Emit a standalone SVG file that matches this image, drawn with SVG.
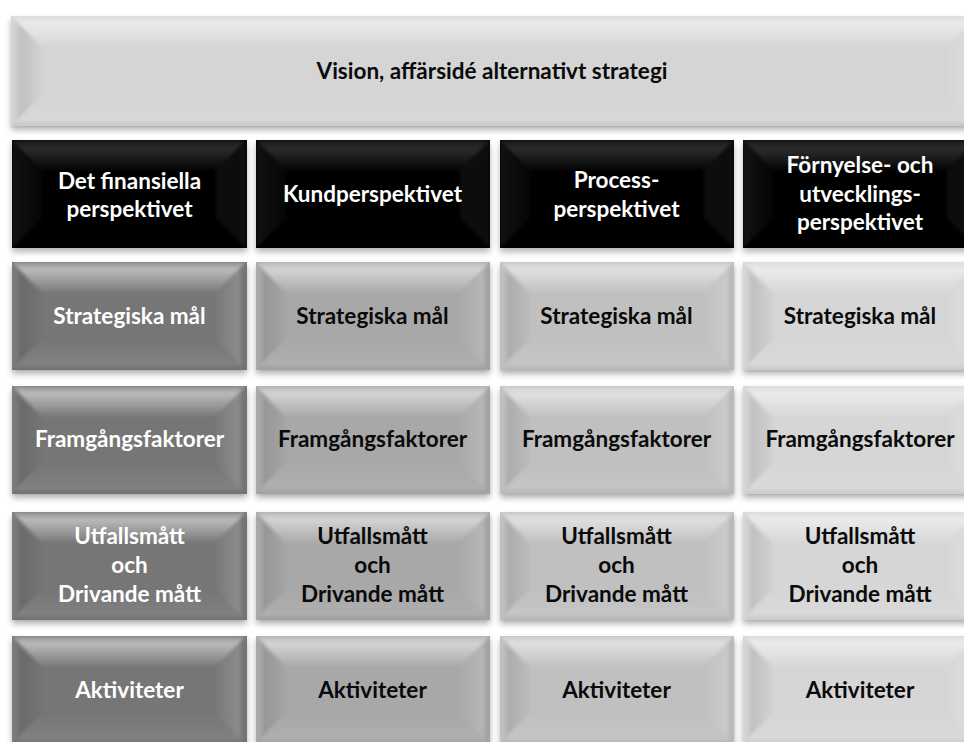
<svg xmlns="http://www.w3.org/2000/svg" xmlns:xlink="http://www.w3.org/1999/xlink" width="964" height="742" viewBox="0 0 964 742">
  <style>
    text { font-family: Lato, "Open Sans", "Liberation Sans", sans-serif; font-weight: bold; font-size: 22.5px; text-anchor: middle; }
    .lt { fill: #ffffff; }
    .dk { fill: #0a0a0a; }
    .t0 { fill: #d5d5d5; }
    .t1 { fill: #767676; }
    .t2 { fill: #a8a8a8; }
    .t3 { fill: #c0c0c0; }
    .t4 { fill: #d6d6d6; }
    .blk { fill: #000000; }
  </style>
  <defs>
    <filter id="shadow" x="-5%" y="-10%" width="110%" height="130%">
      <feGaussianBlur in="SourceAlpha" stdDeviation="3"/>
      <feOffset dy="4" result="b"/>
      <feComponentTransfer><feFuncA type="linear" slope="0.3"/></feComponentTransfer>
      <feMerge><feMergeNode/><feMergeNode in="SourceGraphic"/></feMerge>
    </filter>
    <filter id="soft" x="-5%" y="-5%" width="110%" height="110%">
      <feGaussianBlur stdDeviation="1.5"/>
    </filter>
    <linearGradient id="gTop" x1="0" y1="0" x2="0" y2="1">
      <stop offset="0" stop-color="#fff" stop-opacity="0.2"/>
      <stop offset="0.25" stop-color="#fff" stop-opacity="0.5"/>
      <stop offset="1" stop-color="#fff" stop-opacity="0.04"/>
    </linearGradient>
    <linearGradient id="gLeft" x1="0" y1="0" x2="1" y2="0">
      <stop offset="0" stop-color="#fff" stop-opacity="0.06"/>
      <stop offset="0.3" stop-color="#000" stop-opacity="0.1"/>
      <stop offset="1" stop-color="#000" stop-opacity="0.02"/>
    </linearGradient>
    <linearGradient id="gRight" x1="0" y1="0" x2="1" y2="0">
      <stop offset="0" stop-color="#fff" stop-opacity="0.02"/>
      <stop offset="0.75" stop-color="#fff" stop-opacity="0.16"/>
      <stop offset="1" stop-color="#000" stop-opacity="0.06"/>
    </linearGradient>
    <linearGradient id="gBot" x1="0" y1="0" x2="0" y2="1">
      <stop offset="0" stop-color="#fff" stop-opacity="0.0"/>
      <stop offset="0.8" stop-color="#fff" stop-opacity="0.08"/>
      <stop offset="1" stop-color="#000" stop-opacity="0.1"/>
    </linearGradient>
    <linearGradient id="gTopK" x1="0" y1="0" x2="0" y2="1">
      <stop offset="0" stop-color="#fff" stop-opacity="0.1"/>
      <stop offset="0.3" stop-color="#fff" stop-opacity="0.17"/>
      <stop offset="1" stop-color="#fff" stop-opacity="0.02"/>
    </linearGradient>
    <linearGradient id="gSideK" x1="0" y1="0" x2="1" y2="0">
      <stop offset="0" stop-color="#fff" stop-opacity="0.07"/>
      <stop offset="1" stop-color="#fff" stop-opacity="0.02"/>
    </linearGradient>
    <!-- bevel overlay for a 234 x 108 tile -->
    <g id="bevel" filter="url(#soft)">
      <polygon points="0,0 234,0 204,30 30,30" fill="url(#gTop)"/>
      <polygon points="0,0 30,30 30,78 0,108" fill="url(#gLeft)"/>
      <polygon points="234,0 234,108 204,78 204,30" fill="url(#gRight)"/>
      <polygon points="0,108 30,78 204,78 234,108" fill="url(#gBot)"/>
    </g>
    <g id="bevelK" filter="url(#soft)">
      <polygon points="0,0 234,0 204,30 30,30" fill="url(#gTopK)"/>
      <polygon points="0,0 30,30 30,78 0,108" fill="url(#gSideK)"/>
      <polygon points="234,0 234,108 204,78 204,30" fill="#fff" fill-opacity="0.05"/>
    </g>
  </defs>

  <rect width="964" height="742" fill="#ffffff"/>

  <!-- header bar -->
  <g id="vision">
    <rect x="11" y="16" width="966" height="110" class="t0" filter="url(#shadow)"/>
    <polygon points="11,16 977,16 947,46 41,46" fill="url(#gTop)" filter="url(#soft)"/>
    <polygon points="11,16 41,46 41,96 11,126" fill="url(#gLeft)" filter="url(#soft)"/>
    <polygon points="977,16 977,126 947,96 947,46" fill="url(#gRight)" filter="url(#soft)"/>
    <polygon points="11,126 41,96 947,96 977,126" fill="url(#gBot)" filter="url(#soft)"/>
    <text x="492" y="79" class="dk">Vision, affärsidé alternativt strategi</text>
  </g>

  <!-- perspective headings -->
  <g id="h1" transform="translate(12,140)">
    <rect width="235" height="108" class="blk" filter="url(#shadow)"/>
    <use xlink:href="#bevelK"/>
    <text x="117.5" y="49" class="lt">Det finansiella</text>
    <text x="117.5" y="77" class="lt">perspektivet</text>
  </g>
  <g id="h2" transform="translate(256,140)">
    <rect width="234" height="108" class="blk" filter="url(#shadow)"/>
    <use xlink:href="#bevelK"/>
    <text x="116.5" y="62" class="lt">Kundperspektivet</text>
  </g>
  <g id="h3" transform="translate(500,140)">
    <rect width="234" height="108" class="blk" filter="url(#shadow)"/>
    <use xlink:href="#bevelK"/>
    <text x="116.5" y="48" class="lt">Process-</text>
    <text x="116.5" y="77" class="lt">perspektivet</text>
  </g>
  <g id="h4" transform="translate(743,140)">
    <rect width="234" height="108" class="blk" filter="url(#shadow)"/>
    <use xlink:href="#bevelK"/>
    <text x="117" y="33" class="lt">Förnyelse- och</text>
    <text x="117" y="62" class="lt">utvecklings-</text>
    <text x="117" y="90" class="lt">perspektivet</text>
  </g>

  <!-- row: strategic goals -->
  <g id="c1r1" transform="translate(12,262)">
    <rect width="235" height="108" class="t1" filter="url(#shadow)"/>
    <use xlink:href="#bevel"/>
    <text x="117.5" y="62" class="lt">Strategiska mål</text>
  </g>
  <g id="c2r1" transform="translate(256,262)">
    <rect width="234" height="108" class="t2" filter="url(#shadow)"/>
    <use xlink:href="#bevel"/>
    <text x="116.5" y="62" class="dk">Strategiska mål</text>
  </g>
  <g id="c3r1" transform="translate(500,262)">
    <rect width="234" height="108" class="t3" filter="url(#shadow)"/>
    <use xlink:href="#bevel"/>
    <text x="116.5" y="62" class="dk">Strategiska mål</text>
  </g>
  <g id="c4r1" transform="translate(743,262)">
    <rect width="234" height="108" class="t4" filter="url(#shadow)"/>
    <use xlink:href="#bevel"/>
    <text x="117" y="62" class="dk">Strategiska mål</text>
  </g>

  <!-- row: success factors -->
  <g id="c1r2" transform="translate(12,386)">
    <rect width="235" height="108" class="t1" filter="url(#shadow)"/>
    <use xlink:href="#bevel"/>
    <text x="117.5" y="61" class="lt">Framgångsfaktorer</text>
  </g>
  <g id="c2r2" transform="translate(256,386)">
    <rect width="234" height="108" class="t2" filter="url(#shadow)"/>
    <use xlink:href="#bevel"/>
    <text x="116.5" y="61" class="dk">Framgångsfaktorer</text>
  </g>
  <g id="c3r2" transform="translate(500,386)">
    <rect width="234" height="108" class="t3" filter="url(#shadow)"/>
    <use xlink:href="#bevel"/>
    <text x="116.5" y="61" class="dk">Framgångsfaktorer</text>
  </g>
  <g id="c4r2" transform="translate(743,386)">
    <rect width="234" height="108" class="t4" filter="url(#shadow)"/>
    <use xlink:href="#bevel"/>
    <text x="117" y="61" class="dk">Framgångsfaktorer</text>
  </g>

  <!-- row: outcome and driver measures -->
  <g id="c1r3" transform="translate(12,512)">
    <rect width="235" height="108" class="t1" filter="url(#shadow)"/>
    <use xlink:href="#bevel"/>
    <text x="117.5" y="32" class="lt">Utfallsmått</text>
    <text x="117.5" y="61" class="lt">och</text>
    <text x="117.5" y="90" class="lt">Drivande mått</text>
  </g>
  <g id="c2r3" transform="translate(256,512)">
    <rect width="234" height="108" class="t2" filter="url(#shadow)"/>
    <use xlink:href="#bevel"/>
    <text x="116.5" y="32" class="dk">Utfallsmått</text>
    <text x="116.5" y="61" class="dk">och</text>
    <text x="116.5" y="90" class="dk">Drivande mått</text>
  </g>
  <g id="c3r3" transform="translate(500,512)">
    <rect width="234" height="108" class="t3" filter="url(#shadow)"/>
    <use xlink:href="#bevel"/>
    <text x="116.5" y="32" class="dk">Utfallsmått</text>
    <text x="116.5" y="61" class="dk">och</text>
    <text x="116.5" y="90" class="dk">Drivande mått</text>
  </g>
  <g id="c4r3" transform="translate(743,512)">
    <rect width="234" height="108" class="t4" filter="url(#shadow)"/>
    <use xlink:href="#bevel"/>
    <text x="117" y="32" class="dk">Utfallsmått</text>
    <text x="117" y="61" class="dk">och</text>
    <text x="117" y="90" class="dk">Drivande mått</text>
  </g>

  <!-- row: activities -->
  <g id="c1r4" transform="translate(12,636)">
    <rect width="235" height="108" class="t1" filter="url(#shadow)"/>
    <use xlink:href="#bevel"/>
    <text x="117.5" y="62" class="lt">Aktiviteter</text>
  </g>
  <g id="c2r4" transform="translate(256,636)">
    <rect width="234" height="108" class="t2" filter="url(#shadow)"/>
    <use xlink:href="#bevel"/>
    <text x="116.5" y="62" class="dk">Aktiviteter</text>
  </g>
  <g id="c3r4" transform="translate(500,636)">
    <rect width="234" height="108" class="t3" filter="url(#shadow)"/>
    <use xlink:href="#bevel"/>
    <text x="116.5" y="62" class="dk">Aktiviteter</text>
  </g>
  <g id="c4r4" transform="translate(743,636)">
    <rect width="234" height="108" class="t4" filter="url(#shadow)"/>
    <use xlink:href="#bevel"/>
    <text x="117" y="62" class="dk">Aktiviteter</text>
  </g>

  <!-- no connectors in this layout -->
  <g id="connectors"/>
</svg>
